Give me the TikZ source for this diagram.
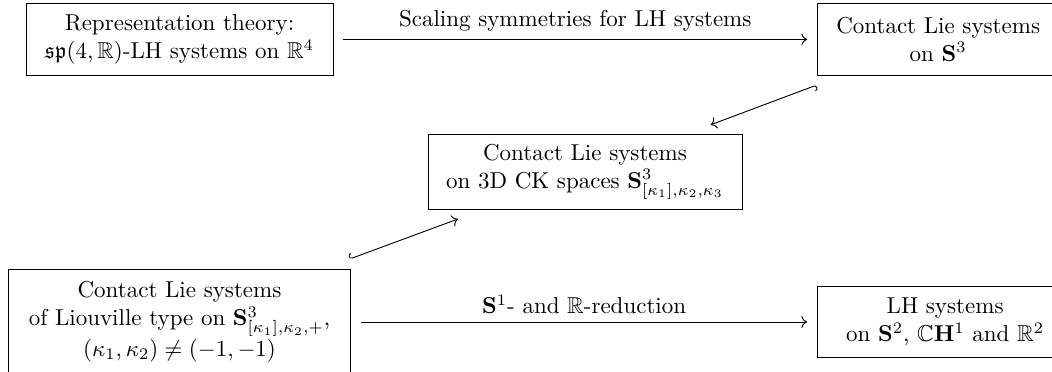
\documentclass[tikz,border=0pt]{standalone}
\usepackage{amsmath,amssymb}
\usetikzlibrary{arrows.meta}

\begin{document}
\begin{tikzpicture}[box/.style={draw, align=center, inner sep=3pt},
	hooked/.style={{Hooks[right]}->, shorten <=12pt, shorten >=12pt},
	plain/.style={->, shorten <=4.3pt, shorten >=4.3pt}]
			\useasboundingbox (0,0) rectangle (16.075,5.684);
			\node[box, minimum width=133.5pt, minimum height=30.9pt] (rep) at (2.743,5.081) {Representation theory:\\ $\mathfrak{sp}(4,\mathbb{R})$-LH systems on $\mathbb{R}^4$};
			\node[box, anchor=west, minimum width=105pt, minimum height=30.9pt] (cs) at (12.484,5.081) {Contact Lie systems\\ on $\mathbf{S}^3$};
			\node[box, minimum width=136.5pt, minimum height=32.2pt] (ck) at (8.939,3.056) {Contact Lie systems\\ on 3D CK spaces $\mathbf{S}^3_{[\kappa_1],\kappa_2,\kappa_3}$};
			\node[box, minimum width=149pt, minimum height=46pt] (liou) at (2.743,0.764) {Contact Lie systems\\ of Liouville type on $\mathbf{S}^3_{[\kappa_1],\kappa_2,+}$,\\ $(\kappa_1,\kappa_2)\neq(-1,-1)$};
			\node[box, anchor=west, minimum width=111pt, minimum height=30.9pt] (lh) at (12.484,0.764) {LH systems\\ on $\mathbf{S}^2$, $\mathbb{C}\mathbf{H}^1$ and $\mathbb{R}^2$};
			\draw[plain] (rep) -- node[above] {Scaling symmetries for LH systems} (cs);
			\draw[plain] (liou) -- node[above] {$\mathbf{S}^1$- and $\mathbb{R}$-reduction} (lh);
			\draw[hooked] (cs) -- (ck);
			\draw[hooked] (liou) -- (ck);
		\end{tikzpicture}
\end{document}
